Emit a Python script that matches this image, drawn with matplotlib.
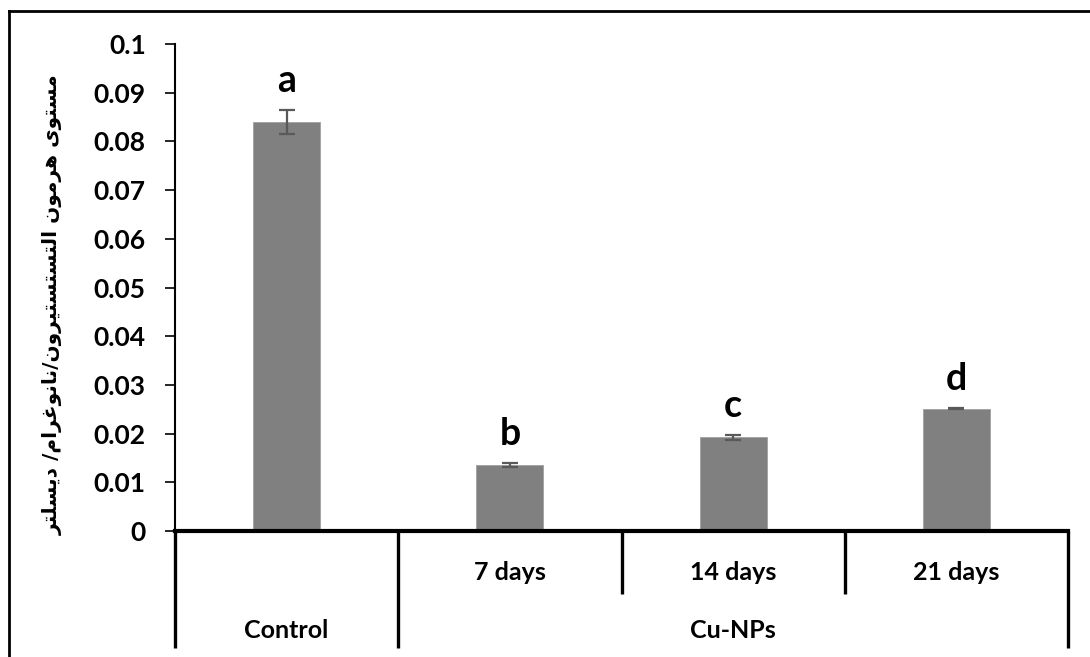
import matplotlib
matplotlib.use("Agg")
import matplotlib.pyplot as plt
from matplotlib.lines import Line2D
import matplotlib.transforms as mtransforms

# ---------------- data ----------------
categories = ["Control", "7 days", "14 days", "21 days"]
values = [0.084, 0.0135, 0.0192, 0.0251]
errors = [0.0024, 0.0004, 0.0005, 0.0001]
letters = ["a", "b", "c", "d"]
group_labels = ["Control", "Cu-NPs"]
yticks = [0, 0.01, 0.02, 0.03, 0.04, 0.05, 0.06, 0.07, 0.08, 0.09, 0.1]
ytick_labels = ["0", "0.01", "0.02", "0.03", "0.04", "0.05", "0.06", "0.07", "0.08", "0.09", "0.1"]
ylabel_text = "مستوى هرمون التستستيرون/نانوغرام/ ديسلتر"

# ------------- simple Arabic shaping -------------
FORMS = {
    'ا': (0xFE8D, 0xFE8E, None, None),
    'د': (0xFEA9, 0xFEAA, None, None),
    'ر': (0xFEAD, 0xFEAE, None, None),
    'و': (0xFEED, 0xFEEE, None, None),
    'ت': (0xFE95, 0xFE96, 0xFE97, 0xFE98),
    'س': (0xFEB1, 0xFEB2, 0xFEB3, 0xFEB4),
    'م': (0xFEE1, 0xFEE2, 0xFEE3, 0xFEE4),
    'ن': (0xFEE5, 0xFEE6, 0xFEE7, 0xFEE8),
    'ه': (0xFEE9, 0xFEEA, 0xFEEB, 0xFEEC),
    'ل': (0xFEDD, 0xFEDE, 0xFEDF, 0xFEE0),
    'ي': (0xFEF1, 0xFEF2, 0xFEF3, 0xFEF4),
    'ى': (0xFEEF, 0xFEF0, 0xFBE8, 0xFBE9),
    'غ': (0xFECD, 0xFECE, 0xFECF, 0xFED0),
}


def dual(c):
    return c in FORMS and FORMS[c][2] is not None


def shape(text):
    out = []
    n = len(text)
    for i, c in enumerate(text):
        if c not in FORMS:
            out.append(c)
            continue
        prev_join = i > 0 and dual(text[i - 1])
        next_join = dual(c) and i + 1 < n and text[i + 1] in FORMS
        iso, fin, ini, med = FORMS[c]
        if prev_join and next_join:
            cp = med
        elif prev_join:
            cp = fin
        elif next_join:
            cp = ini
        else:
            cp = iso
        out.append(chr(cp))
    return "".join(out)[::-1]


# ---------------- plot ----------------
plt.rcParams['font.family'] = ['Lato', 'DejaVu Sans']
W, H = 1090, 657
fig = plt.figure(figsize=(W / 100, H / 100), dpi=100)
ax_left, ax_right, ax_top, ax_bottom = 175, 1068, 44, 531
ax = fig.add_axes([ax_left / W, 1 - ax_bottom / H, (ax_right - ax_left) / W, (ax_bottom - ax_top) / H])

x = list(range(len(categories)))
ax.bar(x, values, width=0.3, color="#808080", edgecolor="#a0a0a0", linewidth=0.6, zorder=2)
ax.errorbar(x, values, yerr=errors, fmt="none", ecolor="#595959", elinewidth=1.6,
            capsize=6, capthick=1.6, zorder=3)

for xi, v, e, lab in zip(x, values, errors, letters):
    ax.annotate(lab, (xi, v + e), xytext=(0, 13), textcoords="offset points",
                ha="center", va="baseline", fontsize=27, fontweight="bold")

ax.set_xlim(-0.5, len(categories) - 0.5)
ax.set_ylim(0, 0.1)
ax.set_yticks(yticks)
ax.set_yticklabels(ytick_labels, fontsize=19, fontweight="bold")
ax.set_xticks([])
ax.tick_params(axis="y", direction="out", length=7, width=1.2, pad=14)
for s in ["top", "right"]:
    ax.spines[s].set_visible(False)
ax.spines["left"].set_linewidth(1.5)
ax.spines["bottom"].set_linewidth(3)

# category table below the axis
trans = mtransforms.blended_transform_factory(ax.transData, ax.transAxes)
px = lambda ypix: (ax_bottom - ypix) / (ax_bottom - ax_top)
long_y = px(648)
short_y = px(594)
for bx, yend in [(-0.5, long_y), (0.5, long_y), (1.5, short_y), (2.5, short_y), (3.5, long_y)]:
    ax.add_line(Line2D([bx, bx], [0, yend], transform=trans, color="black", lw=2.4,
                       clip_on=False, solid_capstyle="butt"))

for xi, lab in zip(x[1:], categories[1:]):
    ax.text(xi, px(572), lab, transform=trans, ha="center", va="center",
            fontsize=18, fontweight="bold")
ax.text(0, px(631), group_labels[0], transform=trans, ha="center", va="center",
        fontsize=18, fontweight="bold")
ax.text(2, px(631), group_labels[1], transform=trans, ha="center", va="center",
        fontsize=18, fontweight="bold")

# y label (Arabic)
fig.text(53 / W, 1 - 305 / H, shape(ylabel_text), rotation=90, ha="center", va="center",
         fontsize=14.5, fontweight="bold", family=["DejaVu Sans"])

# outer border (partial frame)
fig.add_artist(Line2D([9 / W, 1.0], [1 - 11 / H, 1 - 11 / H], transform=fig.transFigure,
                      color="black", lw=2))
fig.add_artist(Line2D([9 / W, 9 / W], [1 - 11 / H, 0], transform=fig.transFigure,
                      color="black", lw=2))

fig.savefig("out.png", dpi=100)
